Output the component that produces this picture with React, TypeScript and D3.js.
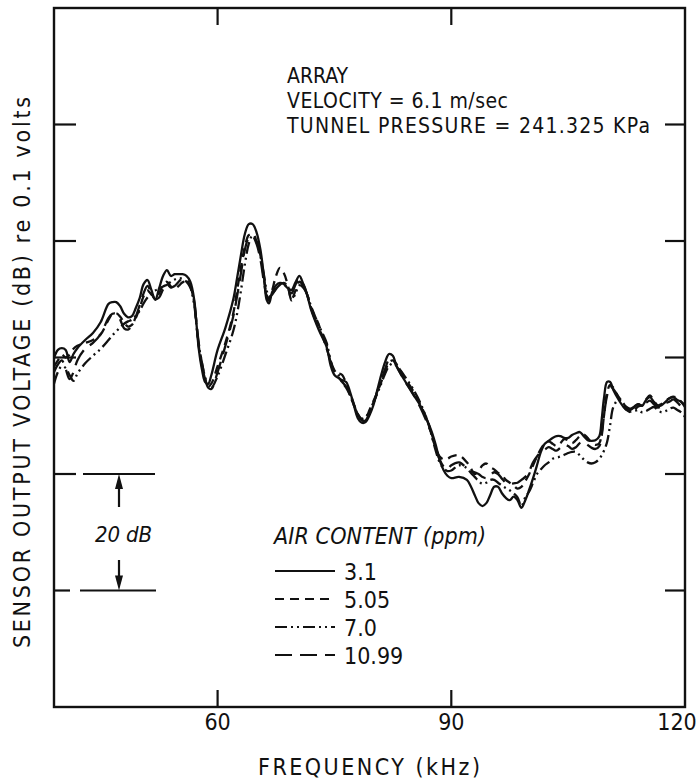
import * as d3 from "d3";

// frequency grid (kHz) shared by the four traces
const FREQS = [
  39.0, 39.5, 40.0, 40.5, 41.0, 41.5, 42.0, 43.0, 44.0, 45.0, 46.0, 46.5, 47.0, 47.5, 48.0, 48.5, 49.0, 49.5,
  50.0, 50.5, 51.0, 51.5, 52.0, 52.5, 53.0, 53.5, 54.0, 54.5, 55.0, 55.5, 56.0, 56.5, 57.0, 57.3, 57.6, 58.0,
  58.4, 58.8, 59.2, 60.0, 61.0, 62.0, 62.5, 63.0, 63.5, 64.0, 64.5, 65.0, 65.5, 66.0, 66.3, 66.6, 67.0, 67.5,
  68.0, 68.5, 69.0, 69.5, 70.0, 70.5, 71.0, 71.5, 72.0, 73.0, 74.0, 74.5, 75.0, 75.5, 76.0, 76.5, 77.0, 77.5,
  78.0, 78.5, 79.0, 79.5, 80.0, 80.5, 81.0, 81.5, 82.0, 82.5, 83.0, 84.0, 85.0, 86.0, 87.0, 87.5, 88.0, 88.5,
  89.0, 89.5, 90.0, 91.0, 92.0, 92.5, 93.0, 93.5, 94.0, 94.5, 95.0, 95.5, 96.0, 96.5, 97.0, 97.5, 98.0, 98.5,
  99.0, 99.5, 100.0, 100.5, 101.0, 101.5, 102.0, 102.5, 103.0, 103.5, 104.0, 104.5, 105.0, 105.5, 106.0, 106.5,
  107.0, 107.5, 108.0, 108.5, 109.0, 109.3, 109.6, 110.0, 110.4, 110.8, 111.5, 112.0, 112.5, 113.0, 113.5,
  114.0, 114.5, 115.0, 115.5, 116.0, 116.5, 117.0, 117.5, 118.0, 118.5, 119.0, 119.5, 120.0,
];

// sensor output (dB, relative to the frame bottom) for each air content
const AIR_3_1 = [
  59.9, 61.3, 61.6, 61.3, 59.2, 60.6, 61.6, 63.0, 64.2, 66.1, 69.2, 69.5, 69.5, 68.8, 67.5, 66.9, 67.1, 68.5,
  70.2, 72.6, 73.3, 71.6, 69.9, 71.9, 74.0, 75.0, 74.0, 74.3, 74.3, 74.3, 74.0, 73.0, 69.9, 65.6, 61.3, 57.9,
  55.8, 55.5, 57.0, 61.3, 65.1, 69.9, 73.6, 77.6, 81.2, 82.9, 82.9, 81.5, 78.5, 73.3, 69.9, 69.3, 71.2, 72.4,
  72.8, 72.6, 71.9, 71.6, 72.9, 74.0, 72.6, 70.7, 68.2, 64.7, 61.8, 58.7, 57.0, 56.5, 56.1, 55.8, 54.1, 51.8,
  49.6, 48.8, 48.9, 50.1, 51.8, 54.4, 57.0, 59.2, 60.6, 60.3, 58.4, 56.1, 53.9, 51.8, 48.9, 47.2, 45.0, 42.4,
  40.7, 39.7, 39.3, 39.5, 39.0, 37.9, 36.4, 35.0, 34.5, 35.0, 36.4, 37.8, 37.8, 36.7, 35.9, 35.5, 36.1, 35.5,
  34.2, 35.5, 37.3, 39.3, 41.5, 43.8, 45.2, 45.7, 46.2, 46.5, 46.5, 46.2, 46.2, 46.7, 47.0, 47.2,
  46.5, 45.8, 45.7, 45.8, 46.5, 49.3, 53.0, 55.8, 55.8, 54.4, 52.7, 51.7, 51.0, 51.0, 51.5,
  52.0, 51.7, 52.7, 53.2, 52.4, 51.7, 51.8, 52.4, 53.0, 53.2, 52.7, 52.4, 51.7,
];
const AIR_5_05 = [
  58.5, 59.5, 60.5, 60.0, 60.5, 61.5, 62.0, 62.5, 63.0, 64.0, 66.5, 67.5, 67.6, 67.0, 66.0, 65.3, 65.6, 66.8,
  68.5, 70.5, 71.5, 70.8, 70.3, 71.0, 72.5, 73.0, 72.2, 71.8, 72.3, 72.9, 73.0, 72.3, 69.5, 65.5, 61.8, 58.5,
  56.3, 55.0, 55.5, 58.5, 62.5, 67.5, 71.5, 75.5, 79.0, 81.0, 81.2, 80.0, 77.5, 73.0, 70.8, 70.0, 71.5, 74.0,
  75.4, 74.5, 72.5, 70.0, 71.5, 73.0, 72.3, 70.8, 68.6, 65.6, 61.5, 59.5, 57.5, 57.3, 57.0, 55.5, 53.5, 51.8,
  50.3, 49.3, 49.5, 51.0, 52.5, 54.0, 55.8, 57.5, 59.2, 59.5, 58.8, 56.5, 54.5, 52.0, 49.0, 46.5, 44.5, 43.0,
  42.5, 42.6, 43.0, 43.2, 42.0, 41.0, 40.0, 40.5, 41.5, 41.8, 41.2, 40.8, 40.2, 39.8, 39.0, 38.5, 38.0, 37.5,
  37.8, 38.8, 40.0, 41.5, 43.0, 44.3, 45.2, 45.6, 45.2, 44.8, 45.3, 46.0, 45.8, 45.3, 45.8, 46.5,
  46.8, 46.2, 45.4, 45.0, 45.3, 47.0, 50.0, 54.0, 55.3, 54.8, 53.0, 51.8, 51.0, 50.6, 51.0,
  51.6, 51.8, 52.8, 53.5, 52.6, 51.8, 52.0, 52.6, 53.0, 53.3, 53.0, 52.4, 51.5,
];
const AIR_7_0 = [
  55.5, 57.5, 58.5, 58.2, 57.0, 56.0, 57.2, 59.0, 60.3, 61.5, 63.0, 63.8, 64.5, 65.2, 65.8, 66.2, 66.5, 67.2,
  68.0, 69.3, 70.3, 71.0, 71.5, 71.8, 72.2, 72.5, 73.0, 73.4, 73.6, 73.5, 73.0, 72.0, 69.0, 65.5, 62.0, 59.0,
  56.6, 55.2, 54.8, 56.8, 60.5, 64.5, 67.5, 71.5, 76.0, 79.5, 81.0, 80.3, 77.5, 73.8, 71.5, 70.5, 70.8, 71.8,
  72.6, 72.5, 72.0, 69.8, 71.0, 72.4, 72.0, 70.8, 68.8, 65.5, 62.5, 59.5, 57.8, 57.0, 55.8, 54.8, 53.5, 51.8,
  50.3, 49.5, 49.8, 50.8, 52.3, 53.8, 55.5, 57.2, 58.5, 59.0, 58.6, 56.8, 54.8, 52.3, 48.8, 46.5, 44.0, 42.0,
  41.0, 40.5, 40.6, 41.5, 41.0, 40.2, 39.5, 38.8, 38.3, 38.5, 39.0, 39.0, 38.5, 38.0, 37.6, 37.2, 36.7, 36.0,
  34.5, 36.0, 37.0, 38.5, 40.0, 40.8, 41.5, 42.0, 42.6, 42.8, 43.0, 43.3, 43.6, 43.8, 43.8, 43.2,
  42.5, 42.0, 41.8, 42.0, 42.6, 43.2, 44.0, 45.5, 48.5, 51.5, 52.8, 52.3, 51.3, 50.7, 50.8,
  51.0, 50.6, 50.8, 51.2, 51.5, 51.0, 50.6, 50.8, 51.2, 51.4, 51.0, 50.6, 49.8,
];
const AIR_10_99 = [
  57.5, 58.8, 59.5, 58.0, 56.3, 57.5, 59.5, 61.5, 62.5, 64.0, 66.8, 67.5, 67.5, 66.5, 65.0, 64.8, 65.5, 67.0,
  69.0, 71.0, 72.3, 71.0, 70.0, 70.3, 71.7, 72.6, 72.0, 72.3, 73.0, 73.6, 73.4, 72.2, 69.5, 65.8, 62.3, 59.0,
  56.4, 54.8, 54.6, 57.5, 62.0, 67.0, 70.5, 74.5, 78.5, 80.5, 80.8, 79.5, 76.8, 72.5, 70.5, 69.8, 70.8, 71.8,
  72.5, 72.8, 72.2, 71.0, 72.5, 73.4, 72.6, 70.8, 68.4, 65.0, 62.2, 59.2, 57.5, 56.6, 55.8, 55.0, 53.8, 52.0,
  50.0, 49.2, 49.2, 50.5, 52.0, 54.2, 56.0, 58.0, 59.6, 59.6, 58.5, 56.0, 54.0, 51.5, 48.5, 46.8, 44.5, 42.5,
  41.3, 40.8, 41.5, 42.0, 41.0, 40.5, 40.3, 40.0, 39.5, 39.3, 39.8, 40.3, 40.0, 39.2, 38.5, 38.3, 38.4, 38.5,
  39.0, 39.5, 40.5, 42.0, 43.0, 43.8, 44.2, 44.6, 44.3, 44.0, 44.5, 45.0, 44.8, 44.3, 44.6, 45.3,
  45.5, 45.0, 44.5, 44.3, 44.8, 46.5, 50.0, 53.5, 55.0, 54.6, 53.2, 52.3, 51.5, 51.2, 51.6,
  52.0, 51.6, 52.2, 52.6, 52.0, 51.4, 51.6, 52.2, 52.4, 52.8, 52.3, 51.6, 51.0,
];

const SERIES = [
  { label: "3.1", values: AIR_3_1, dash: "" },
  { label: "5.05", values: AIR_5_05, dash: "9 6" },
  { label: "7.0", values: AIR_7_0, dash: "12 4 2 4 2 4" },
  { label: "10.99", values: AIR_10_99, dash: "17 8" },
];

const X_TICKS = [60, 90, 120];
const Y_TICKS = [20, 40, 60, 80, 100];

const FONT = "'DejaVu Sans Condensed', 'Liberation Sans Narrow', 'DejaVu Sans', sans-serif";
const W = 696;
const H = 783;
const FS = 23;

export default function App() {
  const x = d3.scaleLinear().domain([39, 120]).range([54, 685]);
  const y = d3.scaleLinear().domain([0, 120]).range([707, 8]);

  const line = d3
    .line<number>()
    .x((_, i) => x(FREQS[i]))
    .y((d) => y(d))
    .curve(d3.curveCatmullRom.alpha(0.5));

  const [x0, x1] = x.range();
  const [yb, yt] = y.range();

  const legendRows = [571, 599, 627, 655];

  return (
    <svg
      width={W}
      height={H}
      style={{ position: "absolute", left: 0, top: 0, background: "#fff" }}
      fontFamily={FONT}
      fontStretch="condensed"
    >
      <rect x={0} y={0} width={W} height={H} fill="#fff" />

      {/* traces */}
      <g fill="none" stroke="#111" strokeWidth={2.3} strokeLinejoin="round">
        {SERIES.map((s) => (
          <path key={s.label} d={line(s.values) || ""} strokeDasharray={s.dash || undefined} />
        ))}
      </g>

      {/* frame */}
      <rect x={x0} y={yt} width={x1 - x0} height={yb - yt} fill="none" stroke="#111" strokeWidth={2.4} />

      {/* ticks, all pointing inward */}
      <g stroke="#111" strokeWidth={2.2}>
        {X_TICKS.filter((t) => t < 120).map((t) => (
          <g key={t}>
            <line x1={x(t)} x2={x(t)} y1={yt} y2={yt + 17} />
            <line x1={x(t)} x2={x(t)} y1={yb} y2={yb - 17} />
          </g>
        ))}
        {Y_TICKS.map((t) => (
          <g key={t}>
            <line x1={x0} x2={x0 + (t === 20 ? 16 : 22)} y1={y(t)} y2={y(t)} />
            <line x1={x1} x2={x1 - 20} y1={y(t)} y2={y(t)} />
          </g>
        ))}
      </g>

      {/* 20 dB scale marker */}
      <g stroke="#111" strokeWidth={2.2}>
        <line x1={83} x2={155} y1={y(40)} y2={y(40)} />
        <line x1={80} x2={156} y1={y(20)} y2={y(20)} />
        <line x1={119} x2={119} y1={y(40) + 12} y2={507} />
        <line x1={119} x2={119} y1={560} y2={y(20) - 12} />
      </g>
      <g fill="#111">
        <path d={`M119,${y(40)} L115,${y(40) + 15} L123,${y(40) + 15} Z`} />
        <path d={`M119,${y(20)} L115,${y(20) - 15} L123,${y(20) - 15} Z`} />
      </g>
      <text x={95} y={542} fontSize={22} fontStyle="italic" textLength={57} fill="#111">
        20 dB
      </text>

      {/* annotation */}
      <g fontSize={21} fill="#111">
        <text x={287} y={83}>ARRAY</text>
        <text x={287} y={108} textLength={221}>VELOCITY = 6.1 m/sec</text>
        <text x={287} y={133} textLength={363}>TUNNEL PRESSURE = 241.325 KPa</text>
      </g>

      {/* legend */}
      <text x={274} y={544} fontSize={FS} fontStyle="italic" textLength={212} fill="#111">
        AIR CONTENT (ppm)
      </text>
      {SERIES.map((s, i) => (
        <g key={s.label}>
          <line
            x1={275}
            x2={335}
            y1={legendRows[i]}
            y2={legendRows[i]}
            stroke="#111"
            strokeWidth={2.2}
            strokeDasharray={s.dash || undefined}
          />
          <text x={344} y={legendRows[i] + 9} fontSize={FS} fill="#111">
            {s.label}
          </text>
        </g>
      ))}

      {/* x tick labels */}
      <g fontSize={FS} fill="#111" textAnchor="middle">
        {X_TICKS.map((t) => (
          <text key={t} x={t === 120 ? x(t) - 8 : x(t)} y={730}>
            {t}
          </text>
        ))}
      </g>

      {/* axis titles */}
      <text x={258} y={775} fontSize={FS} textLength={222} fill="#111">
        FREQUENCY (kHz)
      </text>
      <text
        transform="translate(30,648) rotate(-90)"
        fontSize={FS}
        textLength={551}
        fill="#111"
      >
        SENSOR OUTPUT VOLTAGE (dB) re 0.1 volts
      </text>
    </svg>
  );
}
